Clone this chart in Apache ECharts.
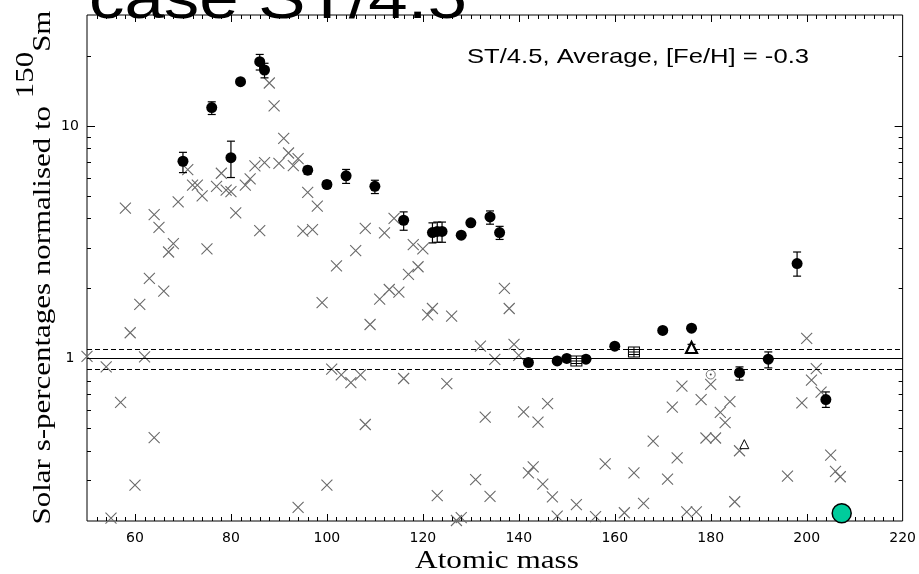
<!DOCTYPE html>
<html>
<head>
<meta charset="utf-8">
<script src="https://cdn.jsdelivr.net/npm/echarts@6/dist/echarts.min.js"></script>
<style>
  html, body { margin: 0; padding: 0; background: #fff; }
  #chart { width: 919px; height: 574px; }
</style>
</head>
<body>
<div id="chart"></div>
<script>
// s-only isotopes: [mass, value, error low, error high] (low == high: no bar drawn)
const sOnlyIsotopes = [
  [70, 7.05, 6.3, 7.7], [76, 12.0, 11.2, 12.7], [80, 7.3, 6.0, 8.6], [82, 15.5, 15.5, 15.5],
  [86, 18.9, 17.4, 20.3], [87, 17.4, 16.1, 18.6], [96, 6.45, 6.2, 6.7], [100, 5.6, 5.4, 5.8],
  [104, 6.1, 5.66, 6.5], [110, 5.5, 5.12, 5.84], [116, 3.93, 3.56, 4.27], [122, 3.48, 3.14, 3.83],
  [123, 3.52, 3.16, 3.86], [124, 3.52, 3.16, 3.86], [128, 3.39, 3.39, 3.39], [130, 3.83, 3.83, 3.83],
  [134, 4.06, 3.78, 4.31], [136, 3.48, 3.25, 3.7], [142, 0.961, 0.961, 0.961], [148, 0.976, 0.976, 0.976],
  [150, 1.0, 1.0, 1.0], [154, 0.993, 0.993, 0.993], [160, 1.13, 1.13, 1.13], [170, 1.32, 1.32, 1.32],
  [176, 1.35, 1.35, 1.35], [186, 0.87, 0.807, 0.92], [192, 0.993, 0.911, 1.067], [198, 2.56, 2.26, 2.87],
  [204, 0.666, 0.616, 0.718]
];

// other isotopes: [mass, value]
const otherIsotopes = [
  [50, 1.02], [54, 0.92], [55, 0.206], [57, 0.647], [58, 4.43], [59, 1.29], [60, 0.285], [61, 1.71],
  [62, 1.016], [63, 2.21], [64, 4.16], [64, 0.457], [65, 3.66], [66, 1.95], [67, 2.87], [68, 3.12],
  [69, 4.71], [71, 6.49], [72, 5.56], [73, 5.56], [74, 5.0], [75, 2.96], [77, 5.5], [78, 6.26],
  [79, 5.3], [80, 5.22], [81, 4.23], [83, 5.56], [84, 5.92], [85, 6.73], [86, 3.55], [87, 6.96],
  [88, 15.3], [89, 12.2], [90, 6.9], [91, 8.84], [92, 7.65], [93, 6.75], [94, 7.24], [94, 0.229],
  [95, 3.53], [96, 5.18], [97, 3.58], [98, 4.52], [99, 1.74], [100, 0.285], [101, 0.9], [102, 2.5],
  [103, 0.85], [105, 0.788], [106, 2.91], [107, 0.85], [108, 3.63], [108, 0.52], [109, 1.4], [111, 1.8],
  [112, 3.47], [113, 1.98], [114, 4.0], [115, 1.93], [116, 0.82], [117, 2.3], [118, 3.09], [119, 2.48],
  [120, 2.96], [121, 1.54], [122, 1.64], [123, 0.257], [125, 0.78], [126, 1.52], [127, 0.201], [128, 0.207],
  [131, 0.301], [132, 1.13], [133, 0.559], [134, 0.255], [135, 0.99], [137, 2.0], [138, 1.64], [139, 1.15],
  [140, 1.03], [141, 0.589], [142, 0.322], [143, 0.342], [144, 0.532], [145, 0.288], [146, 0.64], [147, 0.254],
  [148, 0.21], [152, 0.235], [156, 0.209], [158, 0.352], [162, 0.217], [164, 0.322], [166, 0.238], [168, 0.441],
  [171, 0.303], [172, 0.618], [173, 0.374], [174, 0.76], [175, 0.219], [177, 0.219], [178, 0.665], [179, 0.455],
  [180, 0.773], [181, 0.455], [182, 0.587], [183, 0.53], [184, 0.652], [185, 0.242], [186, 0.401], [196, 0.312],
  [199, 0.644], [200, 1.22], [201, 0.807], [202, 0.904], [203, 0.716], [205, 0.384], [206, 0.327], [207, 0.31]
];

// special symbols
const gridBoxIsotopes = [[152, 0.976], [164, 1.067]];
const filledTriangleIsotopes = [[176, 1.115, 1.085, 1.15]];
const openTriangleIsotopes = [[187, 0.428]];
const openCircleIsotopes = [[180, 0.853]];
const leadIsotope = [[207.3, 0.216]];

// reference levels
const referenceLevel = 1;
const bandLevels = [0.9, 1.1];

// axis ticks and labels
const xMajorTicks = [60, 80, 100, 120, 140, 160, 180, 200];
const xMinorTicks = [52, 54, 56, 58, 62, 64, 66, 68, 70, 72, 74, 76, 78, 82, 84, 86, 88, 90, 92, 94, 96, 98,
  102, 104, 106, 108, 110, 112, 114, 116, 118, 122, 124, 126, 128, 130, 132, 134, 136, 138, 142, 144, 146, 148,
  150, 152, 154, 156, 158, 162, 164, 166, 168, 170, 172, 174, 176, 178, 182, 184, 186, 188, 190, 192, 194, 196,
  198, 202, 204, 206, 208, 210, 212, 214, 216, 218];
const yMajorTicks = [1, 10];
const yMinorTicks = [0.3, 0.4, 0.5, 0.6, 0.7, 0.8, 0.9, 2, 3, 4, 5, 6, 7, 8, 9, 20];
const yLabelValues = [1, 10];

// y-axis title pieces: text, superscript mass number, element symbol
const yTitleMain = 'Solar s-percentages normalised to ';
const yTitleMass = '150';
const yTitleElement = 'Sm';

const chart = echarts.init(document.getElementById('chart'), null, { renderer: 'canvas' });

const serif = '"Liberation Serif", "Times New Roman", serif';
const sans = '"Liberation Sans", Arial, Helvetica, sans-serif';

// lay out the rotated y-axis title with a raised mass number
const yTitleFont = '26px ' + serif;
const yTitleStretch = 1.19;
const measureCtx = document.createElement('canvas').getContext('2d');
measureCtx.font = yTitleFont;
const wMain = measureCtx.measureText(yTitleMain).width * yTitleStretch;
const wMass = measureCtx.measureText(yTitleMass).width * yTitleStretch;
const wElem = measureCtx.measureText(yTitleElement).width * yTitleStretch;
const yTitleCenter = 267.5;
const yTitleBaseX = 43.2;
const yTitleRaise = 17;
const yTitleStart = yTitleCenter + (wMain + wMass + wElem) / 2;

function yTitlePiece(text, x, y) {
  return {
    type: 'text', x: x, y: y, scaleX: yTitleStretch, rotation: Math.PI / 2, silent: true,
    style: {
      text: text, font: yTitleFont, fill: '#000',
      align: 'left', verticalAlign: 'middle', textAlign: 'left', textVerticalAlign: 'middle'
    }
  };
}

function renderErrorBar(params, api) {
  const x = api.value(0), lo = api.value(2), hi = api.value(3);
  if (!(hi > lo)) return null;
  const a = api.coord([x, lo]);
  const b = api.coord([x, hi]);
  const cap = 4;
  const st = { stroke: '#000', lineWidth: 1.2, fill: null };
  return {
    type: 'group',
    children: [
      { type: 'line', shape: { x1: a[0], y1: a[1], x2: b[0], y2: b[1] }, style: st },
      { type: 'line', shape: { x1: a[0] - cap, y1: a[1], x2: a[0] + cap, y2: a[1] }, style: st },
      { type: 'line', shape: { x1: b[0] - cap, y1: b[1], x2: b[0] + cap, y2: b[1] }, style: st }
    ]
  };
}

function renderYTick(params, api) {
  const p = api.coord([api.value(0), api.value(1)]);
  const cs = params.coordSys;
  const len = api.value(2) ? 8 : 4;
  const y = Math.round(p[1]) + 0.5;
  const st = { stroke: '#000', lineWidth: 1 };
  return {
    type: 'group',
    children: [
      { type: 'line', shape: { x1: cs.x, y1: y, x2: cs.x + len, y2: y }, style: st },
      { type: 'line', shape: { x1: cs.x + cs.width, y1: y, x2: cs.x + cs.width - len, y2: y }, style: st }
    ]
  };
}

function renderXTick(params, api) {
  const p = api.coord([api.value(0), api.value(1)]);
  const cs = params.coordSys;
  const len = api.value(2) ? 7 : 4;
  const x = Math.round(p[0]) + 0.5;
  const st = { stroke: '#000', lineWidth: 1 };
  return {
    type: 'group',
    children: [
      { type: 'line', shape: { x1: x, y1: cs.y + cs.height, x2: x, y2: cs.y + cs.height - len }, style: st },
      { type: 'line', shape: { x1: x, y1: cs.y, x2: x, y2: cs.y + len }, style: st }
    ]
  };
}

const yTickData = yMajorTicks.map(v => [50, v, 1]).concat(yMinorTicks.map(v => [50, v, 0]));
const xTickData = xMajorTicks.map(v => [v, 1, 1]).concat(xMinorTicks.map(v => [v, 1, 0]));

const option = {
  animation: false,
  backgroundColor: '#fff',
  grid: {
    left: 87, right: 12, top: 15, bottom: 53,
    show: true, borderColor: '#000', borderWidth: 1, backgroundColor: 'transparent'
  },
  xAxis: {
    type: 'value', min: 50, max: 220, interval: 10,
    axisLine: { show: false },
    axisTick: { show: false },
    splitLine: { show: false },
    axisLabel: {
      color: '#000', fontFamily: '"DejaVu Sans", sans-serif', fontSize: 14, margin: 10,
      formatter: v => (v % 20 === 0 ? String(v) : '')
    }
  },
  yAxis: {
    type: 'log', logBase: 10, min: 0.2, max: 30,
    axisLine: { show: false },
    axisTick: { show: false },
    splitLine: { show: false },
    minorTick: { show: false },
    axisLabel: {
      color: '#000', fontFamily: '"DejaVu Sans", sans-serif', fontSize: 14, margin: 17, align: 'center',
      formatter: v => (yLabelValues.some(t => Math.abs(v - t) < 1e-6 * t) ? String(Math.round(v)) : '')
    }
  },
  graphic: [
    {
      type: 'text', x: 89, y: 1.6, scaleX: 1.2, silent: true,
      style: {
        text: 'case ST/4.5', font: '59px ' + sans, fill: '#000',
        align: 'left', verticalAlign: 'middle', textAlign: 'left', textVerticalAlign: 'middle'
      }
    },
    {
      type: 'text', x: 467, y: 57.7, scaleX: 1.22, silent: true,
      style: {
        text: 'ST/4.5, Average, [Fe/H] = -0.3', font: '21px ' + sans, fill: '#000',
        align: 'left', verticalAlign: 'middle', textAlign: 'left', textVerticalAlign: 'middle'
      }
    },
    {
      type: 'text', x: 497, y: 561, scaleX: 1.2, silent: true,
      style: {
        text: 'Atomic mass', font: '26px ' + serif, fill: '#000',
        align: 'center', verticalAlign: 'middle', textAlign: 'center', textVerticalAlign: 'middle'
      }
    },
    yTitlePiece(yTitleMain, yTitleBaseX, yTitleStart),
    yTitlePiece(yTitleMass, yTitleBaseX - yTitleRaise, yTitleStart - wMain),
    yTitlePiece(yTitleElement, yTitleBaseX, yTitleStart - wMain - wMass)
  ],
  series: [
    {
      name: 'ticksY', type: 'custom', renderItem: renderYTick, data: yTickData,
      encode: { x: 0, y: 1 }, silent: true, z: 5
    },
    {
      name: 'ticksX', type: 'custom', renderItem: renderXTick, data: xTickData,
      encode: { x: 0, y: 1 }, silent: true, z: 5
    },
    {
      name: 'other', type: 'scatter', data: otherIsotopes,
      symbol: 'path://M0 0L10 10M10 0L0 10', symbolSize: 11,
      itemStyle: { color: 'transparent', borderColor: '#6a6a6a', borderWidth: 1.1, opacity: 1 },
      silent: true, z: 3,
      markLine: {
        silent: true, symbol: ['none', 'none'], label: { show: false }, animation: false,
        lineStyle: { color: '#000', width: 1 },
        data: [
          { yAxis: referenceLevel, lineStyle: { type: 'solid', color: '#000', width: 1 } },
          { yAxis: bandLevels[0], lineStyle: { type: [5, 3], color: '#000', width: 1 } },
          { yAxis: bandLevels[1], lineStyle: { type: [5, 3], color: '#000', width: 1 } }
        ]
      }
    },
    {
      name: 'errorBars', type: 'custom', renderItem: renderErrorBar, data: sOnlyIsotopes,
      encode: { x: 0, y: 1 }, silent: true, z: 4
    },
    {
      name: 's-only', type: 'scatter', data: sOnlyIsotopes.map(d => [d[0], d[1]]),
      symbol: 'circle', symbolSize: 11,
      itemStyle: { color: '#000', opacity: 1 }, silent: true, z: 6
    },
    {
      name: 'gridBox', type: 'scatter', data: gridBoxIsotopes,
      symbol: 'path://M0 0H10V10H0Z M0 2.5H10 M0 5H10 M0 7.5H10 M5 0V10', symbolSize: [11, 10],
      itemStyle: { color: '#fff', borderColor: '#000', borderWidth: 1, opacity: 1 }, silent: true, z: 6
    },
    {
      name: 'triangleBar', type: 'custom', renderItem: renderErrorBar, data: filledTriangleIsotopes,
      encode: { x: 0, y: 1 }, silent: true, z: 4
    },
    {
      name: 'filledTriangle', type: 'scatter', data: filledTriangleIsotopes.map(d => [d[0], d[1]]),
      symbol: 'triangle', symbolSize: 11,
      itemStyle: { color: '#fff', borderColor: '#000', borderWidth: 2.2, opacity: 1 }, silent: true, z: 6
    },
    {
      name: 'openTriangle', type: 'scatter', data: openTriangleIsotopes,
      symbol: 'triangle', symbolSize: 9,
      itemStyle: { color: '#fff', borderColor: '#000', borderWidth: 1, opacity: 1 }, silent: true, z: 6
    },
    {
      name: 'openCircle', type: 'scatter', data: openCircleIsotopes,
      symbol: 'circle', symbolSize: 9,
      itemStyle: { color: '#fff', borderColor: '#777', borderWidth: 1, opacity: 1 }, silent: true, z: 6
    },
    {
      name: 'openCircleDot', type: 'scatter', data: openCircleIsotopes,
      symbol: 'circle', symbolSize: 2,
      itemStyle: { color: '#444', opacity: 1 }, silent: true, z: 7
    },
    {
      name: 'lead', type: 'scatter', data: leadIsotope,
      symbol: 'circle', symbolSize: 19,
      itemStyle: { color: '#00cc9c', borderColor: '#000', borderWidth: 1.5, opacity: 1 }, silent: true, z: 8
    }
  ]
};

chart.setOption(option);
</script>
</body>
</html>
